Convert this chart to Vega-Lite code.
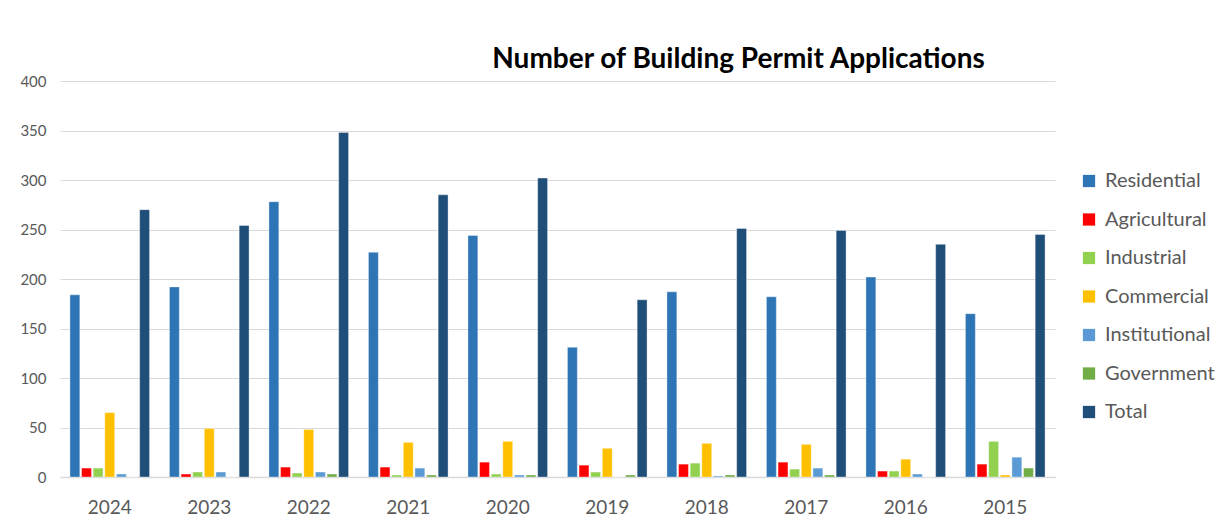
{
  "$schema": "https://vega.github.io/schema/vega-lite/v6.json",
  "width": 995,
  "height": 396,
  "autosize": {"type": "none"},
  "padding": {"left": 60, "top": 81, "right": 172, "bottom": 50},
  "background": "white",
  "title": {
    "text": "Number of Building Permit Applications",
    "font": "Lato",
    "fontSize": 28,
    "fontWeight": "bold",
    "color": "#000000",
    "anchor": "middle",
    "dx": 181,
    "dy": 8,
    "offset": 8
  },
  "data": {
    "values": [
      {"year": "2024", "type": "Residential", "count": 184},
      {"year": "2024", "type": "Agricultural", "count": 9},
      {"year": "2024", "type": "Industrial", "count": 9},
      {"year": "2024", "type": "Commercial", "count": 65},
      {"year": "2024", "type": "Institutional", "count": 3},
      {"year": "2024", "type": "Government", "count": 0},
      {"year": "2024", "type": "Total", "count": 270},
      {"year": "2023", "type": "Residential", "count": 192},
      {"year": "2023", "type": "Agricultural", "count": 3},
      {"year": "2023", "type": "Industrial", "count": 5},
      {"year": "2023", "type": "Commercial", "count": 49},
      {"year": "2023", "type": "Institutional", "count": 5},
      {"year": "2023", "type": "Government", "count": 0},
      {"year": "2023", "type": "Total", "count": 254},
      {"year": "2022", "type": "Residential", "count": 278},
      {"year": "2022", "type": "Agricultural", "count": 10},
      {"year": "2022", "type": "Industrial", "count": 4},
      {"year": "2022", "type": "Commercial", "count": 48},
      {"year": "2022", "type": "Institutional", "count": 5},
      {"year": "2022", "type": "Government", "count": 3},
      {"year": "2022", "type": "Total", "count": 348},
      {"year": "2021", "type": "Residential", "count": 227},
      {"year": "2021", "type": "Agricultural", "count": 10},
      {"year": "2021", "type": "Industrial", "count": 2},
      {"year": "2021", "type": "Commercial", "count": 35},
      {"year": "2021", "type": "Institutional", "count": 9},
      {"year": "2021", "type": "Government", "count": 2},
      {"year": "2021", "type": "Total", "count": 285},
      {"year": "2020", "type": "Residential", "count": 244},
      {"year": "2020", "type": "Agricultural", "count": 15},
      {"year": "2020", "type": "Industrial", "count": 3},
      {"year": "2020", "type": "Commercial", "count": 36},
      {"year": "2020", "type": "Institutional", "count": 2},
      {"year": "2020", "type": "Government", "count": 2},
      {"year": "2020", "type": "Total", "count": 302},
      {"year": "2019", "type": "Residential", "count": 131},
      {"year": "2019", "type": "Agricultural", "count": 12},
      {"year": "2019", "type": "Industrial", "count": 5},
      {"year": "2019", "type": "Commercial", "count": 29},
      {"year": "2019", "type": "Institutional", "count": 0},
      {"year": "2019", "type": "Government", "count": 2},
      {"year": "2019", "type": "Total", "count": 179},
      {"year": "2018", "type": "Residential", "count": 187},
      {"year": "2018", "type": "Agricultural", "count": 13},
      {"year": "2018", "type": "Industrial", "count": 14},
      {"year": "2018", "type": "Commercial", "count": 34},
      {"year": "2018", "type": "Institutional", "count": 1},
      {"year": "2018", "type": "Government", "count": 2},
      {"year": "2018", "type": "Total", "count": 251},
      {"year": "2017", "type": "Residential", "count": 182},
      {"year": "2017", "type": "Agricultural", "count": 15},
      {"year": "2017", "type": "Industrial", "count": 8},
      {"year": "2017", "type": "Commercial", "count": 33},
      {"year": "2017", "type": "Institutional", "count": 9},
      {"year": "2017", "type": "Government", "count": 2},
      {"year": "2017", "type": "Total", "count": 249},
      {"year": "2016", "type": "Residential", "count": 202},
      {"year": "2016", "type": "Agricultural", "count": 6},
      {"year": "2016", "type": "Industrial", "count": 6},
      {"year": "2016", "type": "Commercial", "count": 18},
      {"year": "2016", "type": "Institutional", "count": 3},
      {"year": "2016", "type": "Government", "count": 0},
      {"year": "2016", "type": "Total", "count": 235},
      {"year": "2015", "type": "Residential", "count": 165},
      {"year": "2015", "type": "Agricultural", "count": 13},
      {"year": "2015", "type": "Industrial", "count": 36},
      {"year": "2015", "type": "Commercial", "count": 2},
      {"year": "2015", "type": "Institutional", "count": 20},
      {"year": "2015", "type": "Government", "count": 9},
      {"year": "2015", "type": "Total", "count": 245}
    ]
  },
  "mark": {"type": "bar", "stroke": "white", "strokeWidth": 0.6, "strokeOpacity": 0.6},
  "encoding": {
    "x": {
      "field": "year",
      "type": "nominal",
      "sort": ["2024", "2023", "2022", "2021", "2020", "2019", "2018", "2017", "2016", "2015"],
      "scale": {"paddingInner": 0.2, "paddingOuter": 0.1},
      "axis": {
        "title": null,
        "labelAngle": 0,
        "labelFont": "Lato",
        "labelFontSize": 19,
        "labelColor": "#595959",
        "labelPadding": 21,
        "ticks": false,
        "domainColor": "#d9d9d9",
        "domainWidth": 1.5,
        "grid": false
      }
    },
    "xOffset": {
      "field": "type",
      "type": "nominal",
      "sort": ["Residential", "Agricultural", "Industrial", "Commercial", "Institutional", "Government", "Total"],
      "scale": {"paddingInner": 0.15, "paddingOuter": 0}
    },
    "y": {
      "field": "count",
      "type": "quantitative",
      "scale": {"domain": [0, 400]},
      "axis": {
        "title": null,
        "values": [0, 50, 100, 150, 200, 250, 300, 350, 400],
        "labelFont": "Lato",
        "labelFontSize": 15,
        "labelColor": "#595959",
        "labelPadding": 14,
        "ticks": false,
        "domain": false,
        "gridColor": "#d9d9d9",
        "gridWidth": 1.2
      }
    },
    "color": {
      "field": "type",
      "type": "nominal",
      "sort": ["Residential", "Agricultural", "Industrial", "Commercial", "Institutional", "Government", "Total"],
      "scale": {
        "domain": ["Residential", "Agricultural", "Industrial", "Commercial", "Institutional", "Government", "Total"],
        "range": ["#2E75B6", "#FF0000", "#92D050", "#FFC000", "#5B9BD5", "#70AD47", "#1F4E79"]
      },
      "legend": {
        "title": null,
        "orient": "none",
        "legendX": 1019,
        "legendY": 90,
        "symbolType": "square",
        "symbolSize": 150,
        "symbolStrokeWidth": 0,
        "labelFont": "Lato",
        "labelFontSize": 20,
        "labelColor": "#595959",
        "labelOffset": 6,
        "rowPadding": 18.5
      }
    }
  },
  "config": {
    "view": {"stroke": null}
  }
}
